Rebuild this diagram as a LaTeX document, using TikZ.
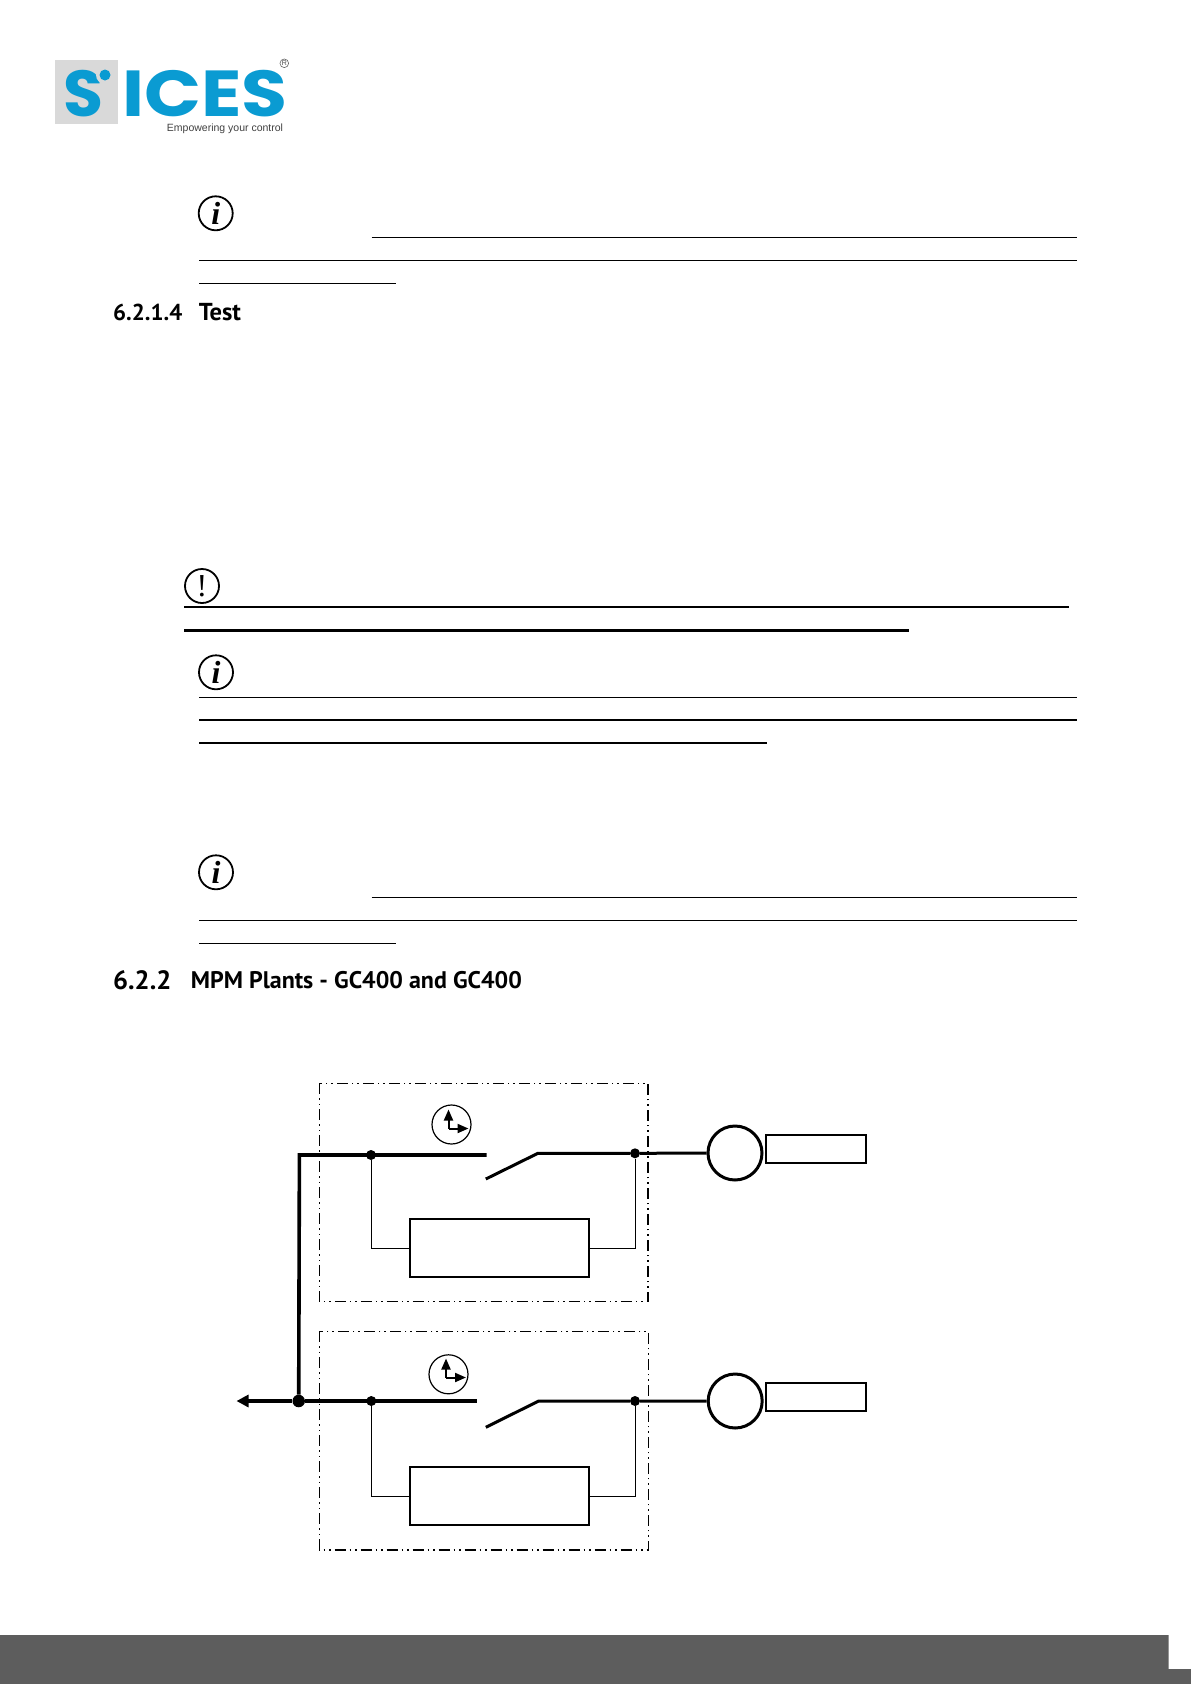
\documentclass[tikz,border=0pt]{standalone}
\usepackage{fontspec}
\usetikzlibrary{arrows.meta}
\setmainfont{PT Sans}
\newfontfamily\logofont{Poppins}
\newfontfamily\tagfont{Liberation Sans}
\newfontfamily\iconfont{Liberation Serif}
\definecolor{logoblue}{HTML}{0A9BD2}
\definecolor{logogray}{HTML}{D9D9D9}
\definecolor{footgray}{HTML}{5D5D5D}
\tikzset{
  busline/.style={line width=3.6pt},
  genline/.style={line width=3pt},
  signal/.style={line width=1pt},
  frame/.style={line width=1.1pt,dash pattern=on 11pt off 4pt on 1.5pt off 4pt on 1.5pt off 4pt},
  joint/.style={circle,fill=black,inner sep=0pt,minimum size=10pt},
  genset/.style={circle,draw,line width=3pt,inner sep=0pt,minimum size=54pt},
  gentag/.style={rectangle,draw,line width=2.2pt,inner sep=0pt,minimum width=100pt,minimum height=28pt},
  control/.style={rectangle,draw,line width=2pt,inner sep=0pt,minimum width=179pt,minimum height=58pt},
  timer/.style={circle,draw,line width=1.2pt,inner sep=0pt,minimum size=39pt},
  hand/.style={line width=2pt,-{Triangle[length=11pt,width=9pt]}},
  noteicon/.style={circle,draw,line width=1.8pt,inner sep=0pt,minimum size=34pt,font=\iconfont\fontsize{32}{32}\selectfont\itshape\bfseries},
  logotext/.style={anchor=base west,inner sep=0pt,text=logoblue,font=\logofont\bfseries\fontsize{65}{65}\selectfont},
  heading/.style={anchor=base west,inner sep=0pt}
}
\begin{document}
\begin{tikzpicture}[x=1pt,y=-1pt]

        % Page
        \useasboundingbox (0,0) rectangle (1191,1684);
        \fill[footgray] (0,1635) -- (1168.7,1635) -- (1168.7,1669) -- (1191,1669) -- (1191,1684) -- (0,1684) -- cycle;

        % Logo
        \fill[logogray] (55,60) rectangle (118.3,124);
        \node[logotext] (logoS) at (63,116) {S};
        \fill[logogray] (105,75) circle (9);
        \fill[logoblue] (105,75) circle (5.5);
        \node[logotext] (logoname) at (122,116) {\scalebox{1.15}[1]{ICES}};
        \node[inner sep=0pt,text=black!75,font=\tagfont\fontsize{10.5}{11}\selectfont] (logotag) at (225,128.5) {Empowering your control};
        \node[circle,draw=black!60,line width=0.6pt,inner sep=0.6pt,text=black!70,font=\tagfont\fontsize{7}{7}\selectfont] (logomark) at (284.3,63.3) {R};

        % Headings
        \node[heading,font=\bfseries\fontsize{23}{23}\selectfont] (headtestnum) at (113,320) {6.2.1.4};
        \node[heading,font=\bfseries\fontsize{24.5}{24.5}\selectfont] (headtest) at (198.7,320) {Test};
        \node[heading,font=\bfseries\fontsize{26.5}{26.5}\selectfont] (headmpmnum) at (113,989) {6.2.2};
        \node[heading,font=\bfseries\fontsize{24}{24}\selectfont] (headmpm) at (190.7,988) {MPM Plants - GC400 and GC400};

        % Note icons
        \node[noteicon] (infoA) at (215.7,213.3) {i};
        \node[noteicon,font=\iconfont\fontsize{32}{32}\selectfont] (warn) at (202,586) {!};
        \node[noteicon] (infoB) at (216,672.3) {i};
        \node[noteicon] (infoC) at (216,872.3) {i};

        % Note rules
        \foreach \xa/\xb/\ya/\w in {371.6/1077/237.5/1.7,199/1077/260.3/1.1,199/396/283.3/1.1,
                                    184/1068.8/607/2,184/909.3/630.7/3,
                                    199/1077/697.3/1.1,199/1077/720/2,199/767/743/2,
                                    371.7/1077/897.3/1.1,199/1077/920.3/1.1,199/396/943.3/1.1}
          \draw[line width=\w pt] (\xa,\ya) -- (\xb,\ya);

        % Frames
        \draw[frame] (319.3,1083.3) rectangle (648,1301.7);
        \draw[frame] (319.3,1331.3) rectangle (648.4,1550);

        % Upper branch
        \coordinate (busup) at (299.4,1155);
        \coordinate (openup) at (486.7,1155);
        \coordinate (tipup) at (485.8,1179);
        \coordinate (hingeup) at (537.9,1153.3);
        \node[joint] (inup) at (371,1155) {};
        \node[joint] (outup) at (635,1153.3) {};
        \node[genset] (genup) at (735,1153) {};
        \node[gentag] (tagup) at (815.7,1148.6) {};
        \node[control] (ctrlup) at (499,1248) {};
        \node[timer] (clockup) at (451.5,1124.5) {};
        \coordinate (pivotup) at (448.5,1128.5);
        \draw[hand] (pivotup) -- ++(0,-19);
        \draw[hand] (pivotup) -- ++(20,0);

        % Lower branch
        \coordinate (openlow) at (476.7,1401);
        \coordinate (tiplow) at (485.8,1427.3);
        \coordinate (hingelow) at (538.7,1401);
        \coordinate (arrowend) at (236.5,1401);
        \node[joint,minimum size=12.5pt] (merge) at (298.7,1401) {};
        \node[joint] (inlow) at (371.3,1401) {};
        \node[joint] (outlow) at (635,1401) {};
        \node[genset] (genlow) at (735.2,1401) {};
        \node[gentag] (taglow) at (815.7,1396.8) {};
        \node[control] (ctrllow) at (499.2,1496.4) {};
        \node[timer] (clocklow) at (448.5,1374.3) {};
        \coordinate (pivotlow) at (446,1377.5);
        \draw[hand] (pivotlow) -- ++(0,-19);
        \draw[hand] (pivotlow) -- ++(20,0);

        % Connectors
        \draw[busline] (merge) -- (busup) -- (openup);
        \draw[genline] (tipup) -- (hingeup) -- (outup) -- (genup);
        \draw[signal] (inup) |- (ctrlup.west);
        \draw[signal] (outup) |- (ctrlup.east);
        \draw[busline] (merge) -- (openlow);
        \draw[busline,-{Triangle[length=12pt,width=12pt]}] (merge) -- (arrowend);
        \draw[genline] (tiplow) -- (hingelow) -- (outlow) -- (genlow);
        \draw[signal] (inlow) |- (ctrllow.west);
        \draw[signal] (outlow) |- (ctrllow.east);

\end{tikzpicture}
\end{document}
